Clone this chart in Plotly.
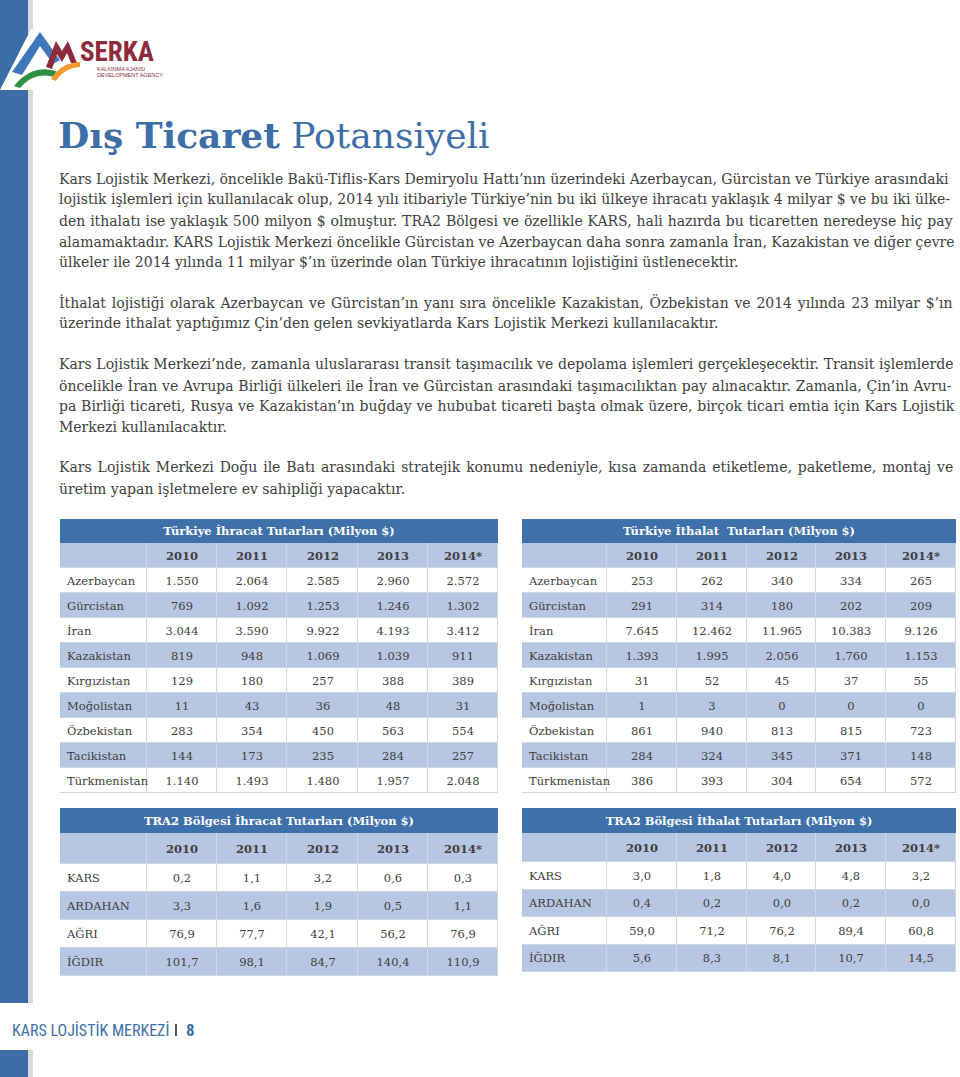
import plotly.graph_objects as go

W, H = 960, 1077

# ---------------- data ----------------
years = ["2010", "2011", "2012", "2013", "2014*"]

countries = ["Azerbaycan", "Gürcistan", "İran", "Kazakistan", "Kırgızistan",
             "Moğolistan", "Özbekistan", "Tacikistan", "Türkmenistan"]

# Türkiye İhracat Tutarları (Milyon $)
exp_2010 = [1550, 769, 3044, 819, 129, 11, 283, 144, 1140]
exp_2011 = [2064, 1092, 3590, 948, 180, 43, 354, 173, 1493]
exp_2012 = [2585, 1253, 9922, 1069, 257, 36, 450, 235, 1480]
exp_2013 = [2960, 1246, 4193, 1039, 388, 48, 563, 284, 1957]
exp_2014 = [2572, 1302, 3412, 911, 389, 31, 554, 257, 2048]

# Türkiye İthalat Tutarları (Milyon $)
imp_2010 = [253, 291, 7645, 1393, 31, 1, 861, 284, 386]
imp_2011 = [262, 314, 12462, 1995, 52, 3, 940, 324, 393]
imp_2012 = [340, 180, 11965, 2056, 45, 0, 813, 345, 304]
imp_2013 = [334, 202, 10383, 1760, 37, 0, 815, 371, 654]
imp_2014 = [265, 209, 9126, 1153, 55, 0, 723, 148, 572]

provinces = ["KARS", "ARDAHAN", "AĞRI", "İĞDIR"]

# TRA2 Bölgesi İhracat Tutarları (Milyon $)
tra2_exp_2010 = [0.2, 3.3, 76.9, 101.7]
tra2_exp_2011 = [1.1, 1.6, 77.7, 98.1]
tra2_exp_2012 = [3.2, 1.9, 42.1, 84.7]
tra2_exp_2013 = [0.6, 0.5, 56.2, 140.4]
tra2_exp_2014 = [0.3, 1.1, 76.9, 110.9]

# TRA2 Bölgesi İthalat Tutarları (Milyon $)
tra2_imp_2010 = [3.0, 0.4, 59.0, 5.6]
tra2_imp_2011 = [1.8, 0.2, 71.2, 8.3]
tra2_imp_2012 = [4.0, 0.0, 76.2, 8.1]
tra2_imp_2013 = [4.8, 0.2, 89.4, 10.7]
tra2_imp_2014 = [3.2, 0.0, 60.8, 14.5]

table_titles = ["Türkiye İhracat Tutarları (Milyon $)",
                "Türkiye İthalat  Tutarları (Milyon $)",
                "TRA2 Bölgesi İhracat Tutarları (Milyon $)",
                "TRA2 Bölgesi İthalat Tutarları (Milyon $)"]

page_title_bold = "Dış Ticaret"
page_title_rest = "Potansiyeli"

paragraphs = [
    ["Kars Lojistik Merkezi, öncelikle Bakü-Tiflis-Kars Demiryolu Hattı’nın üzerindeki Azerbaycan, Gürcistan ve Türkiye arasındaki",
     "lojistik işlemleri için kullanılacak olup, 2014 yılı itibariyle Türkiye’nin bu iki ülkeye ihracatı yaklaşık 4 milyar $ ve bu iki ülke-",
     "den ithalatı ise yaklaşık 500 milyon $ olmuştur. TRA2 Bölgesi ve özellikle KARS, hali hazırda bu ticaretten neredeyse hiç pay",
     "alamamaktadır. KARS Lojistik Merkezi öncelikle Gürcistan ve Azerbaycan daha sonra zamanla İran, Kazakistan ve diğer çevre",
     "ülkeler ile 2014 yılında 11 milyar $’ın üzerinde olan Türkiye ihracatının lojistiğini üstlenecektir."],
    ["İthalat lojistiği olarak Azerbaycan ve Gürcistan’ın yanı sıra öncelikle Kazakistan, Özbekistan ve 2014 yılında 23 milyar $’ın",
     "üzerinde ithalat yaptığımız Çin’den gelen sevkiyatlarda Kars Lojistik Merkezi kullanılacaktır."],
    ["Kars Lojistik Merkezi’nde, zamanla uluslararası transit taşımacılık ve depolama işlemleri gerçekleşecektir. Transit işlemlerde",
     "öncelikle İran ve Avrupa Birliği ülkeleri ile İran ve Gürcistan arasındaki taşımacılıktan pay alınacaktır. Zamanla, Çin’in Avru-",
     "pa Birliği ticareti, Rusya ve Kazakistan’ın buğday ve hububat ticareti başta olmak üzere, birçok ticari emtia için Kars Lojistik",
     "Merkezi kullanılacaktır."],
    ["Kars Lojistik Merkezi Doğu ile Batı arasındaki stratejik konumu nedeniyle, kısa zamanda etiketleme, paketleme, montaj ve",
     "üretim yapan işletmelere ev sahipliği yapacaktır."],
]

footer_text = "KARS LOJİSTİK MERKEZİ"
page_number = "8"

# ---------------- style ----------------
BLUE = "#3d6ea8"
DARK_FILL = "#3e70aa"
LIGHT_FILL = "#b7c7e3"
LINE = "#d0d6e2"
TEXT = "#404040"
SERIF = "DejaVu Serif"
NARROW = "Liberation Sans Narrow, Roboto Condensed, Liberation Sans"
BODY_SIZE = 14

# line y-centres (px) and extra word spacing (px) used to justify lines
line_ys = [[179, 199.5, 220.5, 241.5, 262],
           [302, 323],
           [364, 385, 406, 427],
           [467, 489]]
word_spacing = [[-0.1, 0.0, 0.42, -0.1, 0],
                [1.3, 0],
                [0.2, 0.38, 0.33, 0],
                [1.45, 0]]


def X(px):
    return px / W


def Y(py):
    return 1 - py / H


def path(points):
    return "M " + " L ".join(f"{X(a):.5f},{Y(b):.5f}" for a, b in points) + " Z"


def fmt_int(v):
    return f"{v:,}".replace(",", ".")


def fmt_dec(v):
    return f"{v:.1f}".replace(".", ",")


fig = go.Figure()
layout_axes = {}
SCALE = [[0, "white"], [0.5, LIGHT_FILL], [1, DARK_FILL]]


def add_table(idx, x0, x1, y_title, y_head, y_end, title, rows, cols, fmt,
              head_h, row_h, first_w):
    width = x1 - x0
    height = y_end - y_title
    title_h = y_head - y_title
    xa = "x" if idx == 1 else f"x{idx}"
    ya = "y" if idx == 1 else f"y{idx}"
    n_cols = len(cols)
    other_w = (width - first_w) / n_cols
    x_edges = [0, first_w] + [first_w + other_w * (i + 1) for i in range(n_cols)]
    y_edges = [title_h, title_h + head_h] + [title_h + head_h + row_h * (i + 1)
                                             for i in range(len(rows))]
    # title bar (one cell spanning the table)
    fig.add_trace(go.Heatmap(
        x=[0, width], y=[0, title_h], z=[[2]], zmin=0, zmax=2,
        colorscale=SCALE, showscale=False, hoverinfo="skip",
        text=[[f"<b>{title}</b>"]], texttemplate="%{text}",
        textfont=dict(family=SERIF, size=11.5, color="white"),
        xaxis=xa, yaxis=ya))
    # header + body cells
    z = [[1] * (n_cols + 1)] + [[(i % 2)] * (n_cols + 1) for i in range(len(rows))]
    text = [[""] + [f"<b>{y}</b>" for y in years]]
    for r in range(len(rows)):
        text.append([""] + [fmt(c[r]) for c in cols])
    fig.add_trace(go.Heatmap(
        x=x_edges, y=y_edges, z=z, zmin=0, zmax=2, colorscale=SCALE,
        showscale=False, hoverinfo="skip", xgap=1, ygap=1,
        text=text, texttemplate="%{text}",
        textfont=dict(family=SERIF, size=11.5, color=TEXT),
        xaxis=xa, yaxis=ya))
    centers = [(y_edges[i + 1] + y_edges[i + 2]) / 2 for i in range(len(rows))]
    key = "" if idx == 1 else str(idx)
    layout_axes["xaxis" + key] = dict(domain=[X(x0), X(x1)], range=[0, width],
                                      visible=False, fixedrange=True,
                                      anchor=ya)
    layout_axes["yaxis" + key] = dict(domain=[Y(y_end), Y(y_title)],
                                      range=[height, 0], fixedrange=True,
                                      anchor=xa, showgrid=False, zeroline=False,
                                      showline=False, ticks="",
                                      tickvals=centers, ticktext=rows,
                                      ticklabelposition="inside",
                                      ticklabelstandoff=4,
                                      tickfont=dict(family=SERIF, size=11.5,
                                                    color=TEXT))


add_table(1, 60, 498, 519, 543, 793, table_titles[0], countries,
          [exp_2010, exp_2011, exp_2012, exp_2013, exp_2014], fmt_int, 25, 25, 87)
add_table(2, 522, 956, 519, 543, 793, table_titles[1], countries,
          [imp_2010, imp_2011, imp_2012, imp_2013, imp_2014], fmt_int, 25, 25, 85)
add_table(3, 60, 498, 808, 833, 976, table_titles[2], provinces,
          [tra2_exp_2010, tra2_exp_2011, tra2_exp_2012, tra2_exp_2013, tra2_exp_2014],
          fmt_dec, 31, 28, 87)
add_table(4, 522, 956, 808, 833, 972, table_titles[3], provinces,
          [tra2_imp_2010, tra2_imp_2011, tra2_imp_2012, tra2_imp_2013, tra2_imp_2014],
          fmt_dec, 29, 27.5, 85)

shapes = []
# left blue band with gap at footer, and thin grey strip
for (a, b) in [(0, 1003), (1050, H)]:
    shapes.append(dict(type="rect", xref="paper", yref="paper",
                       x0=X(0), x1=X(28), y0=Y(b), y1=Y(a),
                       fillcolor="#3c6ca6", line=dict(width=0), layer="below"))
    shapes.append(dict(type="rect", xref="paper", yref="paper",
                       x0=X(28), x1=X(33), y0=Y(b), y1=Y(a),
                       fillcolor="#d9d9d9", line=dict(width=0), layer="below"))
# logo: white notch over band
shapes.append(dict(type="path", xref="paper", yref="paper",
                   path=path([(0, 90), (31, 29), (36, 29), (36, 90)]),
                   fillcolor="white", line=dict(width=0)))
# blue mountain
shapes.append(dict(type="path", xref="paper", yref="paper",
                   path=path([(12, 72), (40, 32), (60, 60), (53, 64), (40, 46), (22, 75)]),
                   fillcolor="#3f78b8", line=dict(width=0)))
# red mountain
shapes.append(dict(type="path", xref="paper", yref="paper",
                   path=path([(46, 67), (56, 41), (62, 51), (68, 41), (77, 63), (71, 63),
                              (67, 53), (62, 62), (57, 54), (52, 69)]),
                   fillcolor="#8e2a3b", line=dict(width=0)))
# green arc
shapes.append(dict(type="path", xref="paper", yref="paper",
                   path=f"M {X(14)},{Y(86)} Q {X(32)},{Y(64)} {X(56)},{Y(71)} "
                        f"L {X(55)},{Y(77)} Q {X(34)},{Y(71)} {X(20)},{Y(88)} Z",
                   fillcolor="#2f8f43", line=dict(width=0)))
# orange arc
shapes.append(dict(type="path", xref="paper", yref="paper",
                   path=f"M {X(51)},{Y(79)} Q {X(60)},{Y(63)} {X(80)},{Y(62)} "
                        f"L {X(80)},{Y(67)} Q {X(64)},{Y(68)} {X(56)},{Y(81)} Z",
                   fillcolor="#f39b2f", line=dict(width=0)))
# footer separator
shapes.append(dict(type="rect", xref="paper", yref="paper",
                   x0=X(175), x1=X(177), y0=Y(1036), y1=Y(1024),
                   fillcolor="#555555", line=dict(width=0)))

annotations = []


def ann(text, x, y, size, color, family, xanchor="left", **kw):
    annotations.append(dict(text=text, x=X(x), y=Y(y), xref="paper", yref="paper",
                            xanchor=xanchor, yanchor="middle", showarrow=False,
                            font=dict(size=size, color=color, family=family), **kw))


# logo text
ann("<b>SERKA</b>", 78, 52, 27, "#8e2a3b", NARROW)
ann("KALKINMA AJANSI", 95, 69, 5.5, "#8e2a3b", "Liberation Sans")
ann("DEVELOPMENT AGENCY", 95, 75, 5.5, "#8e2a3b", "Liberation Sans")

# page title
ann(f"<b>{page_title_bold}</b> {page_title_rest}", 56, 135, 36, BLUE, SERIF)

# paragraphs (justified with word spacing)
for para, ys, sps in zip(paragraphs, line_ys, word_spacing):
    for t, yy, sp in zip(para, ys, sps):
        txt = f'<span style="word-spacing:{sp}px">{t}</span>' if sp else t
        ann(txt, 57, yy, BODY_SIZE, TEXT, SERIF)

# footer
ann(footer_text, 10, 1030, 16, BLUE, NARROW)
ann(f"<b>{page_number}</b>", 184, 1030, 17, BLUE, NARROW)

fig.update_layout(
    width=W, height=H,
    margin=dict(l=0, r=0, t=0, b=0),
    paper_bgcolor="white", plot_bgcolor=LINE,
    shapes=shapes, annotations=annotations,
    showlegend=False,
    **layout_axes,
)

fig.write_html("out.html", config={"displayModeBar": False},
               post_script="document.body.style.margin='0';"
                           "document.body.style.overflow='hidden';")
